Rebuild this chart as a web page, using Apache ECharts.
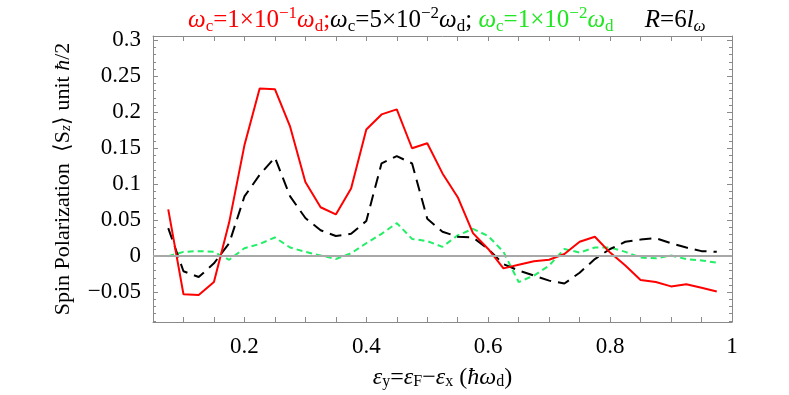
<!DOCTYPE html>
<html><head><meta charset="utf-8">
<script src="https://cdn.jsdelivr.net/npm/echarts@6/dist/echarts.min.js"></script>
<style>html,body{margin:0;padding:0;background:#fff}#c{width:789px;height:395px}</style>
</head><body><div id="c"></div>
<script>
const xVals = [0.075,0.1,0.125,0.15,0.175,0.2,0.225,0.25,0.275,0.3,0.325,0.35,0.375,0.4,0.425,0.45,0.475,0.5,0.525,0.55,0.575,0.6,0.625,0.65,0.675,0.7,0.725,0.75,0.775,0.8,0.825,0.85,0.875,0.9,0.925,0.95,0.975];
const redVals = [0.065,-0.053,-0.054,-0.036,0.047,0.154,0.233,0.232,0.180,0.103,0.068,0.058,0.094,0.176,0.197,0.204,0.150,0.157,0.115,0.082,0.032,0.010,-0.017,-0.012,-0.007,-0.005,0.003,0.020,0.027,0.005,-0.013,-0.033,-0.036,-0.042,-0.039,-0.044,-0.049];
const blackVals = [0.039,-0.021,-0.029,-0.010,0.018,0.083,0.113,0.137,0.083,0.053,0.036,0.028,0.031,0.049,0.129,0.139,0.129,0.052,0.034,0.027,0.026,0.010,-0.011,-0.020,-0.027,-0.034,-0.038,-0.023,-0.004,0.010,0.020,0.023,0.025,0.018,0.012,0.007,0.006];
const greenVals = [0.000,0.006,0.007,0.006,-0.005,0.011,0.017,0.026,0.012,0.006,0.001,-0.004,0.004,0.018,0.031,0.046,0.024,0.021,0.013,0.029,0.038,0.028,0.006,-0.036,-0.027,-0.013,0.010,0.005,0.012,0.012,0.006,-0.002,-0.003,0.001,-0.004,-0.006,-0.009];
const xLabels = [0.2,0.4,0.6,0.8,1];
const yLabels = [-0.05,0,0.05,0.1,0.15,0.2,0.25,0.3];

const yMinor = [];
for (let k = -9; k <= 30; k++) yMinor.push(+(k/100).toFixed(2));

const chart = echarts.init(document.getElementById('c'), null, {renderer:'canvas'});
const FONT = 'Liberation Serif';
const frameColor = '#8a8a8a';
const X_MIN = 0.05, X_MAX = 1.0, Y_MIN = -0.0915, Y_MAX = 0.306;
const fmt = v => (v < 0 ? '\u2212' : '') + String(+Math.abs(v).toFixed(3));

function rs(color, size, extra) {
  return Object.assign({color: color, fontFamily: FONT, fontSize: size, fontWeight:'normal'}, extra || {});
}
const M = 25, S = 17;
const richTitle = {
  r: rs('#ff0000', M), rw: rs('#ff0000', M, {fontStyle:'italic'}),
  rs: rs('#ff0000', S, {verticalAlign:'bottom', lineHeight:S}), rp: rs('#ff0000', S, {verticalAlign:'top', lineHeight:S}),
  k: rs('#000', M), kw: rs('#000', M, {fontStyle:'italic'}),
  ks: rs('#000', S, {verticalAlign:'bottom', lineHeight:S}), kp: rs('#000', S, {verticalAlign:'top', lineHeight:S}),
  g: rs('#22e622', M), gw: rs('#22e622', M, {fontStyle:'italic'}),
  gs: rs('#22e622', S, {verticalAlign:'bottom', lineHeight:S}), gp: rs('#22e622', S, {verticalAlign:'top', lineHeight:S}),
  ki: rs('#000', M, {fontStyle:'italic'}), kis: rs('#000', S, {fontStyle:'italic', verticalAlign:'bottom', lineHeight:S})
};
const titleText = '{rw|ω}{rs|c}{r|=1×10}{rp|−1}{rw|ω}{rs|d}{r|;}{kw|ω}{ks|c}{k|=5×10}{kp|−2}{kw|ω}{ks|d}{k|; }{gw|ω}{gs|c}{g|=1×10}{gp|−2}{gw|ω}{gs|d}{k|     }{ki|R}{k|=6}{ki|l}{kis|ω}';

const richX = {
  n: rs('#000', 24), i: rs('#000', 24, {fontStyle:'italic'}),
  s: rs('#000', 16, {verticalAlign:'bottom', lineHeight:16}),
  si: rs('#000', 16, {fontStyle:'italic', verticalAlign:'bottom', lineHeight:16})
};
const richY = {
  n: rs('#000', 22), i: rs('#000', 22, {fontStyle:'italic'}),
  s: rs('#000', 15, {verticalAlign:'bottom', lineHeight:15}),
  si: rs('#000', 15, {fontStyle:'italic', verticalAlign:'bottom', lineHeight:15})
};

const baseX = {type:'value', min:X_MIN, max:X_MAX, gridIndex:0,
  axisLine:{show:true, onZero:false, lineStyle:{color:frameColor, width:1}},
  splitLine:{show:false}};
const baseY = {type:'value', min:Y_MIN, max:Y_MAX, gridIndex:0,
  axisLine:{show:true, onZero:false, lineStyle:{color:frameColor, width:1}},
  splitLine:{show:false}};

const option = {
  animation:false,
  backgroundColor:'#fff',
  title:{text:titleText, left:183, top:0, textStyle:{rich:richTitle, fontFamily:FONT, fontSize:M, fontWeight:'normal', lineHeight:30}},
  grid:{left:153, right:57, top:36, bottom:70, containLabel:false},
  xAxis:[
    Object.assign({}, baseX, {position:'bottom', interval:0.05,
      axisTick:{show:true, inside:true, length:5, lineStyle:{color:frameColor}},
      axisLabel:{show:true, customValues:xLabels, formatter:fmt, margin:13, color:'#000', fontFamily:FONT, fontSize:23},
      name:'{i|ε}{s|y}{n|=}{i|ε}{s|F}{n|−}{i|ε}{s|x}{n| (}{i|ħω}{s|d}{n|)}', nameLocation:'middle', nameGap:44,
      nameTextStyle:{rich:richX, fontFamily:FONT, fontSize:24}}),
    Object.assign({}, baseX, {position:'top', interval:0.05,
      axisTick:{show:true, inside:true, length:5, lineStyle:{color:frameColor}},
      axisLabel:{show:false}})
  ],
  yAxis:[
    Object.assign({}, baseY, {position:'left',
      axisTick:{show:true, inside:true, length:5, customValues:yLabels, lineStyle:{color:frameColor}},
      axisLabel:{show:true, customValues:yLabels, formatter:fmt, margin:12, color:'#000', fontFamily:FONT, fontSize:23},
      name:'{n|Spin Polarization  ⟨S}{si|z}{n|⟩ unit }{i|ħ}{n|/2}', nameLocation:'middle', nameRotate:90, nameGap:79,
      nameTextStyle:{rich:richY, fontFamily:FONT, fontSize:22}}),
    Object.assign({}, baseY, {position:'right',
      axisTick:{show:true, inside:true, length:5, customValues:yLabels, lineStyle:{color:frameColor}},
      axisLabel:{show:false}}),
    Object.assign({}, baseY, {position:'left', axisLine:{show:false},
      axisTick:{show:true, inside:true, length:3, customValues:yMinor, lineStyle:{color:frameColor}},
      axisLabel:{show:false}}),
    Object.assign({}, baseY, {position:'right', axisLine:{show:false},
      axisTick:{show:true, inside:true, length:3, customValues:yMinor, lineStyle:{color:frameColor}},
      axisLabel:{show:false}})
  ],
  series:[
    {type:'line', data:[], z:1, silent:true,
      markLine:{silent:true, symbol:'none', label:{show:false},
        lineStyle:{color:'#a8a8a8', width:2, type:'solid'}, data:[{yAxis:0}]}},
    {type:'line', name:'green', z:2, symbol:'none', data:xVals.map((x,i)=>[x, greenVals[i]]),
      lineStyle:{color:'#22ee66', width:2, type:[6,4]}},
    {type:'line', name:'black', z:3, symbol:'none', data:xVals.map((x,i)=>[x, blackVals[i]]),
      lineStyle:{color:'#000', width:2, type:[12,7]}},
    {type:'line', name:'red', z:4, symbol:'none', data:xVals.map((x,i)=>[x, redVals[i]]),
      lineStyle:{color:'#ff0000', width:2, type:'solid'}}
  ]
};
chart.setOption(option);
</script></body></html>
